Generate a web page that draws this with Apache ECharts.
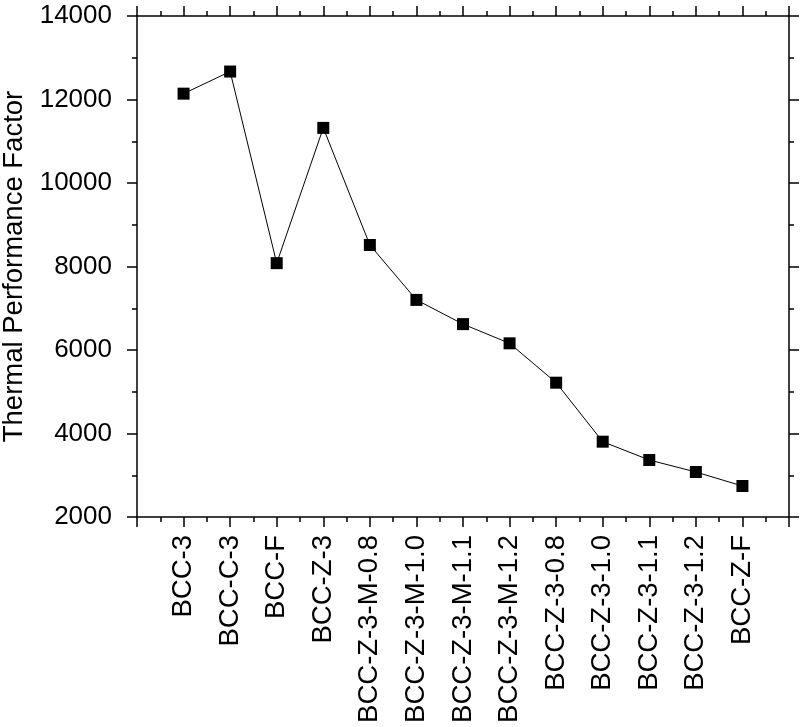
<!DOCTYPE html>
<html>
<head>
<meta charset="utf-8">
<script src="https://cdn.jsdelivr.net/npm/echarts@6/dist/echarts.min.js"></script>
<style>
html,body{margin:0;padding:0;background:#fff;}
#chart{width:800px;height:727px;}
</style>
</head>
<body>
<div id="chart"></div>
<script>
const categories = ["BCC-3","BCC-C-3","BCC-F","BCC-Z-3","BCC-Z-3-M-0.8","BCC-Z-3-M-1.0","BCC-Z-3-M-1.1","BCC-Z-3-M-1.2","BCC-Z-3-0.8","BCC-Z-3-1.0","BCC-Z-3-1.1","BCC-Z-3-1.2","BCC-Z-F"];
const tpfValues = [12140, 12670, 8080, 11320, 8515, 7200, 6620, 6160, 5217, 3804, 3365, 3078, 2742];
const yTicks = [2000, 4000, 6000, 8000, 10000, 12000, 14000];
const yTitle = "Thermal Performance Factor";

const FONT = "'Liberation Sans', Arial, Helvetica, sans-serif";
const axisLine = {show: true, onZero: false, lineStyle: {color: '#000', width: 1.5}};
const tick = {show: true, inside: false, length: 10, lineStyle: {color: '#000', width: 1.5}};
const minor = {show: true, splitNumber: 2, length: 5, lineStyle: {color: '#000', width: 1.5}};

const chart = echarts.init(document.getElementById('chart'), null, {renderer: 'canvas'});
const xBase = {
  type: 'value', min: 0, max: categories.length + 1, interval: 1,
  axisLine: axisLine, axisTick: tick, minorTick: minor,
  splitLine: {show: false}, minorSplitLine: {show: false}
};
const yBase = {
  type: 'value', min: yTicks[0], max: yTicks[yTicks.length - 1], interval: 2000,
  axisLine: axisLine, axisTick: tick, minorTick: minor,
  splitLine: {show: false}, minorSplitLine: {show: false}
};
chart.setOption({
  animation: false,
  backgroundColor: '#fff',
  grid: {left: 137, right: 11, top: 16, bottom: 210, containLabel: false, outerBoundsMode: 'none'},
  xAxis: [
    Object.assign({}, xBase, {
      position: 'bottom',
      axisLabel: {
        show: true, rotate: 90, margin: 18, color: '#000', fontSize: 27.5, fontFamily: FONT,
        formatter: function (v) { return (v >= 1 && v <= categories.length) ? categories[v - 1] : ''; }
      }
    }),
    Object.assign({}, xBase, {position: 'top', axisLabel: {show: false}})
  ],
  yAxis: [
    Object.assign({}, yBase, {
      position: 'left',
      name: yTitle, nameLocation: 'middle', nameRotate: 90, nameGap: 108,
      nameTextStyle: {color: '#000', fontSize: 27.5, fontFamily: FONT},
      axisLabel: {show: true, margin: 25, color: '#000', fontSize: 26, fontFamily: FONT,
        formatter: function (v) { return String(v); }}
    }),
    Object.assign({}, yBase, {position: 'right', axisLabel: {show: false}})
  ],
  series: [{
    type: 'line',
    xAxisIndex: 0, yAxisIndex: 0,
    data: tpfValues.map(function (v, i) { return [i + 1, v]; }),
    symbol: 'rect', symbolSize: 12,
    itemStyle: {color: '#000'},
    lineStyle: {color: '#000', width: 1}
  }]
});
</script>
</body>
</html>
